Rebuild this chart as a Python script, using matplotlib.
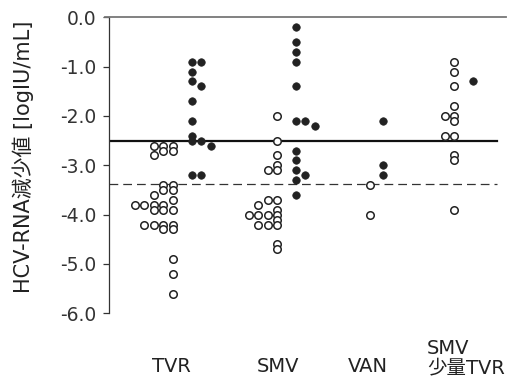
# dot plot: HCV-RNA reduction per regimen (open / filled circles)
import matplotlib
matplotlib.use("Agg")
import matplotlib.pyplot as plt

plt.rcParams["font.family"] = ["DejaVu Sans", "Noto Sans CJK JP"]

groups = ["TVR", "SMV", "VAN", "SMV\n少量TVR"]

# open circles (value, column in the stack; 0 = main column, negative = to the left)
tvr_open = [-2.6, -2.7, -3.4, -3.5, -3.7, -3.9, -4.2, -4.3, -4.9, -5.2, -5.6,
            -2.6, -2.7, -3.4, -3.5, -3.8, -3.9, -4.2, -4.3,
            -2.6, -2.8, -3.6, -3.8, -3.9, -4.2,
            -3.8, -4.2,
            -3.8]
tvr_open_col = [0] * 11 + [-1] * 8 + [-2] * 6 + [-3] * 2 + [-4]
smv_open = [-2.0, -2.5, -2.8, -3.0, -3.1, -3.7, -3.9, -4.0, -4.1, -4.2, -4.6, -4.7,
            -3.1, -3.7, -4.0, -4.2,
            -3.8, -4.0, -4.2,
            -4.0]
smv_open_col = [0] * 12 + [-1] * 4 + [-2] * 3 + [-3]
van_open = [-3.4, -4.0]
van_open_col = [0, 0]
low_open = [-0.9, -1.1, -1.4, -1.8, -2.0, -2.1, -2.4, -2.8, -2.9, -3.9,
            -2.0, -2.4]
low_open_col = [0] * 10 + [-1] * 2

# filled circles (column 0 = main column, positive = to the right)
tvr_filled = [-0.9, -1.1, -1.3, -1.7, -2.1, -2.4, -2.5, -3.2,
              -0.9, -1.4, -2.5, -3.2,
              -2.6]
tvr_filled_col = [0] * 8 + [1] * 4 + [2]
smv_filled = [-0.2, -0.5, -0.7, -0.9, -1.4, -2.1, -2.7, -2.9, -3.1, -3.3, -3.6,
              -2.1, -3.2,
              -2.2]
smv_filled_col = [0] * 11 + [1] * 2 + [2]
van_filled = [-2.1, -3.0, -3.2]
van_filled_col = [0, 0, 0]
low_filled = [-1.3]
low_filled_col = [0]

solid_ref = -2.5
dashed_ref = -3.37

# layout
open_x = [1.0, 2.0, 2.886, 3.692]
filled_x = [1.182, 2.179, 3.008, 3.870]
step = 0.09

fig = plt.figure(figsize=(5.14, 3.85), dpi=100)
ax = fig.add_axes([109 / 514, 1 - 313.3 / 385, 397 / 514, 296 / 385])

open_sets = [(tvr_open, tvr_open_col), (smv_open, smv_open_col),
             (van_open, van_open_col), (low_open, low_open_col)]
filled_sets = [(tvr_filled, tvr_filled_col), (smv_filled, smv_filled_col),
               (van_filled, van_filled_col), (low_filled, low_filled_col)]

for i, (vals, cols) in enumerate(open_sets):
    xs = [open_x[i] + c * step for c in cols]
    ax.plot(xs, vals, "o", ms=5.4, mfc="white", mec="#222222", mew=1.1,
            ls="none", zorder=3)
for i, (vals, cols) in enumerate(filled_sets):
    xs = [filled_x[i] + c * step for c in cols]
    ax.plot(xs, vals, "o", ms=5.4, mfc="#222222", mec="#222222", mew=0.5,
            ls="none", zorder=3)

ax.axhline(solid_ref, xmin=0, xmax=0.977, color="#111111", lw=1.6, zorder=2)
ax.axhline(dashed_ref, xmin=0, xmax=0.977, color="#333333", lw=0.9,
           dashes=(7, 4), zorder=2)

ax.set_xlim(0.391, 4.186)
ax.set_ylim(-6, 0)
ax.set_yticks([0, -1, -2, -3, -4, -5, -6])
ax.set_yticklabels(["0.0", "-1.0", "-2.0", "-3.0", "-4.0", "-5.0", "-6.0"],
                   fontsize=13.5, color="#333333")
ax.tick_params(axis="y", length=4, width=0.9, color="#333333", pad=5)
ax.set_xticks([])

for s in ["right", "bottom"]:
    ax.spines[s].set_visible(False)
ax.spines["left"].set_color("#333333")
ax.spines["left"].set_linewidth(0.9)
ax.spines["top"].set_color("#777777")
ax.spines["top"].set_linewidth(1.3)
ax.spines["top"].set_bounds(0.391 - 0.04, 4.186)
ax.spines["top"].set_clip_on(False)

# category labels
fig.text(171 / 514, 1 - 372 / 385, groups[0], ha="center", va="baseline",
         fontsize=14, color="#222222")
fig.text(277.5 / 514, 1 - 372 / 385, groups[1], ha="center", va="baseline",
         fontsize=14, color="#222222")
fig.text(368 / 514, 1 - 372 / 385, groups[2], ha="center", va="baseline",
         fontsize=14, color="#222222")
fig.text(427 / 514, 1 - 377 / 385, groups[3], ha="left", va="bottom",
         fontsize=14, color="#222222", linespacing=1.0)

fig.text(23 / 514, 1 - 157 / 385, "HCV-RNA減少値 [logIU/mL]", rotation=90,
         ha="center", va="center", fontsize=15, color="#222222")

fig.savefig("out.png", dpi=100)
